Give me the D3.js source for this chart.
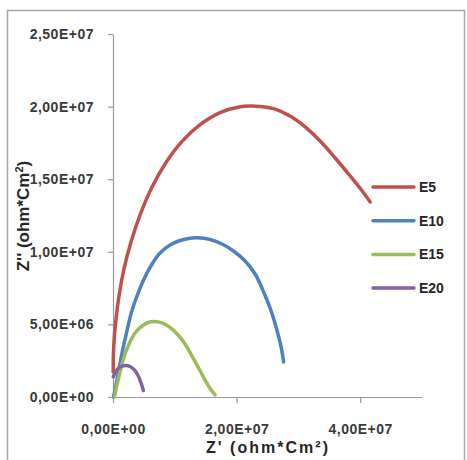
<!DOCTYPE html>
<html>
<head>
<meta charset="utf-8">
<script src="https://cdn.jsdelivr.net/npm/d3@7"></script>
<style>
  html, body { margin: 0; padding: 0; background: #fff; }
  svg { display: block; }
  text { font-family: "Liberation Sans", Arial, sans-serif; font-weight: bold; }
</style>
</head>
<body>
<svg id="chart" width="467" height="460"></svg>
<script>
// ---- Data (values in ohm*cm², in units of 1e6) ----
const seriesNames = ["E5", "E10", "E15", "E20"];
const seriesColors = ["#c0504d", "#4f81bd", "#9bbb59", "#8064a2"];

const E5_x = [0.03, 0.08, 0.24, 0.49, 0.97, 1.78, 2.91, 4.37, 6.32, 8.58, 11.17, 14.09, 17.33, 20.57, 22.19, 23.81, 26.24, 28.66, 31.09, 33.52, 35.95, 38.38, 40.32, 41.62];
const E5_y = [1.72, 3.10, 4.27, 5.37, 6.96, 8.82, 10.67, 12.53, 14.46, 16.15, 17.60, 18.76, 19.59, 19.99, 20.04, 20.01, 19.83, 19.35, 18.60, 17.63, 16.46, 15.22, 14.19, 13.43];

const E10_x = [0.08, 0.49, 0.97, 1.46, 2.11, 2.91, 3.89, 5.02, 6.32, 7.61, 9.23, 10.85, 12.47, 13.60, 15.71, 17.65, 19.60, 21.38, 23.00, 24.45, 25.59, 26.56, 27.21, 27.61];
const E10_y = [0.00, 0.83, 1.93, 3.03, 4.27, 5.72, 6.96, 8.13, 9.16, 9.92, 10.47, 10.78, 10.94, 10.96, 10.85, 10.54, 10.02, 9.37, 8.47, 7.16, 5.92, 4.55, 3.44, 2.41];

const E15_x = [0.24, 0.65, 1.13, 1.78, 2.59, 3.56, 4.70, 5.67, 6.64, 7.94, 9.23, 10.53, 11.66, 12.79, 13.93, 14.90, 15.71, 16.52];
const E15_y = [0.00, 0.83, 1.72, 2.75, 3.65, 4.41, 4.89, 5.13, 5.20, 5.10, 4.79, 4.27, 3.65, 2.82, 1.93, 1.17, 0.59, 0.14];

const E20_x = [0.05, 0.40, 0.89, 1.46, 2.11, 2.75, 3.40, 3.97, 4.45, 4.91];
const E20_y = [1.38, 1.72, 2.00, 2.13, 2.17, 2.10, 1.89, 1.55, 1.07, 0.45];

const unit = 1e6;
const xTicks = [0, 2e7, 4e7];
const yTicks = [0, 5e6, 1e7, 1.5e7, 2e7, 2.5e7];
const xDomain = [0, 5e7];
const yDomain = [0, 2.5e7];
const xTitle = "Z' (ohm*Cm²)";

const seriesX = [E5_x, E10_x, E15_x, E20_x];
const seriesY = [E5_y, E10_y, E15_y, E20_y];

// ---- Formatting like "2,50E+07" ----
function sciFmt(v) {
  if (v === 0) return "0,00E+00";
  const s = v.toExponential(2);
  const [m, e] = s.split("e");
  const sign = e[0] === "-" ? "-" : "+";
  const ev = Math.abs(parseInt(e, 10));
  return m.replace(".", ",") + "E" + sign + String(ev).padStart(2, "0");
}

const svg = d3.select("#chart");

// outer frame
svg.append("rect")
  .attr("x", 7.5).attr("y", 10.5)
  .attr("width", 457).attr("height", 470)
  .attr("fill", "none")
  .attr("stroke", "#a8a8a8")
  .attr("stroke-width", 1.5);

const x = d3.scaleLinear().domain(xDomain).range([113, 422]);
const y = d3.scaleLinear().domain(yDomain).range([397, 34]);

const axisColor = "#9a9a9a";
const labelColor = "#3a3a3a";

const xAxisG = svg.append("g")
  .attr("transform", `translate(0,${y(0)})`)
  .call(d3.axisBottom(x).tickValues(xTicks).tickSize(6).tickSizeOuter(0).tickFormat(sciFmt).tickPadding(21));
const yAxisG = svg.append("g")
  .attr("transform", `translate(${x(0)},0)`)
  .call(d3.axisLeft(y).tickValues(yTicks).tickSize(5).tickSizeOuter(0).tickFormat(sciFmt).tickPadding(14));

[xAxisG, yAxisG].forEach(g => {
  g.select(".domain").attr("stroke", axisColor).attr("stroke-width", 1.2);
  g.selectAll(".tick line").attr("stroke", axisColor).attr("stroke-width", 1.2);
  g.selectAll(".tick text")
    .attr("fill", labelColor)
    .style("font-size", "14px")
    .style("letter-spacing", "0.5px")
    .style("font-family", "\"Liberation Sans\", Arial, sans-serif")
    .style("font-weight", "bold");
});
xAxisG.selectAll(".tick").filter(d => d === 0).select("line").attr("y1", 0);

// lines
const line = d3.line()
  .x(d => x(d[0] * unit))
  .y(d => y(d[1] * unit))
  .curve(d3.curveCatmullRom.alpha(0.5));

seriesNames.forEach((name, i) => {
  const pts = seriesX[i].map((v, j) => [v, seriesY[i][j]]);
  svg.append("path")
    .datum(pts)
    .attr("d", line)
    .attr("fill", "none")
    .attr("stroke", seriesColors[i])
    .attr("stroke-width", 3.5)
    .attr("stroke-linecap", "round")
    .attr("stroke-linejoin", "round");
});

// legend
const legend = svg.append("g");
seriesNames.forEach((name, i) => {
  const ly = 187 + i * 33.7;
  legend.append("line")
    .attr("x1", 373).attr("x2", 414)
    .attr("y1", ly).attr("y2", ly)
    .attr("stroke", seriesColors[i])
    .attr("stroke-width", 3.5)
    .attr("stroke-linecap", "round");
  legend.append("text")
    .attr("x", 419).attr("y", ly + 5)
    .attr("fill", "#262626")
    .style("font-size", "14px")
    .text(name);
});

// axis titles
svg.append("text")
  .attr("x", 267).attr("y", 453)
  .attr("text-anchor", "middle")
  .attr("fill", "#262626")
  .style("font-size", "16px")
  .attr("textLength", 122)
  .attr("lengthAdjust", "spacing")
  .text(xTitle);

const yt = svg.append("text")
  .attr("transform", "translate(29,216) rotate(-90)")
  .attr("text-anchor", "middle")
  .attr("fill", "#262626")
  .style("font-size", "17px");
yt.append("tspan").text("Z'' (ohm*Cm");
yt.append("tspan").attr("dy", -6).style("font-size", "11px").text("2");
yt.append("tspan").attr("dy", 6).text(")");
</script>
</body>
</html>
